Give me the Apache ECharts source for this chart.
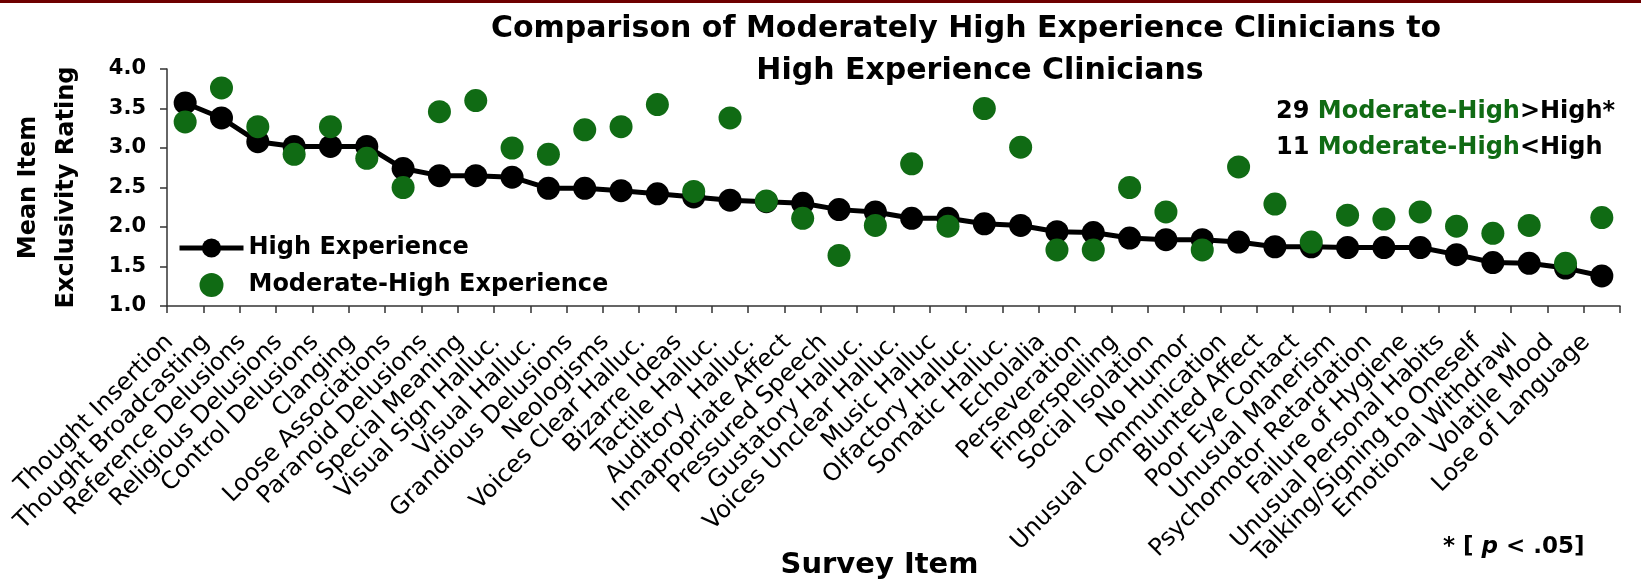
<!DOCTYPE html>
<html><head><meta charset="utf-8">
<script src="https://cdn.jsdelivr.net/npm/echarts@6/dist/echarts.min.js"></script>
<style>html,body{margin:0;padding:0;background:#fff}#c{width:1641px;height:580px}</style>
</head><body><div id="c"></div>
<script>
const categories = ['Thought Insertion','Thought Broadcasting','Reference Delusions','Religious Delusions','Control Delusions','Clanging','Loose Associations','Paranoid Delusions','Special Meaning','Visual Sign Halluc.','Visual Halluc.','Grandious Delusions','Neologisms','Voices Clear Halluc.','Bizarre Ideas','Tactile Halluc.','Auditory  Halluc.','Innapropriate Affect','Pressured Speech','Gustatory Halluc.','Voices Unclear Halluc.','Music Halluc','Olfactory Halluc.','Somatic Halluc.','Echolalia','Perseveration','Fingerspelling','Social Isolation','No Humor','Unusual Communication','Blunted Affect','Poor Eye Contact','Unusual Manerism','Psychomotor Retardation','Failure of Hygiene','Unusual Personal Habits','Talking/Signing to Oneself','Emotional Withdrawl','Volatile Mood','Lose of Language'];
const highExperience = [3.57,3.38,3.08,3.02,3.02,3.02,2.74,2.65,2.65,2.63,2.49,2.49,2.46,2.42,2.38,2.34,2.32,2.30,2.22,2.19,2.11,2.11,2.04,2.02,1.94,1.93,1.86,1.84,1.84,1.81,1.75,1.75,1.74,1.74,1.74,1.65,1.55,1.54,1.48,1.38];
const moderateHighExperience = [3.33,3.76,3.27,2.92,3.27,2.87,2.50,3.46,3.60,3.00,2.92,3.23,3.27,3.55,2.45,3.38,2.33,2.11,1.64,2.02,2.80,2.01,3.50,3.01,1.71,1.71,2.50,2.19,1.71,2.76,2.29,1.81,2.15,2.10,2.19,2.01,1.92,2.02,1.54,2.12];
const seriesNames = ['High Experience','Moderate-High Experience'];
const titleLines = ['Comparison of Moderately High Experience Clinicians to','High Experience Clinicians'];

const FONT = '"DejaVu Sans", Verdana, sans-serif';
const GREEN = '#106b14';
const chart = echarts.init(document.getElementById('c'), null, {renderer:'canvas'});
chart.setOption({
  animation: false,
  backgroundColor: '#fff',
  grid: {left:167, right:21, top:69, bottom:274, containLabel:false, outerBoundsMode:'none'},
  legend: {
    orient:'vertical', left:172, top:231, itemWidth:64, itemHeight:24, itemGap:13,
    data: seriesNames,
    lineStyle:{width:5},
    textStyle: {fontFamily:FONT, fontWeight:'bold', fontSize:24, color:'#000'}
  },
  xAxis: {
    type:'category', data:categories, boundaryGap:true,
    name:'Survey Item', nameLocation:'middle', nameGap:245, nameMoveOverlap:false,
    nameTextStyle:{fontFamily:FONT, fontWeight:'bold', fontSize:29, color:'#000', padding:[0,28,0,0]},
    axisLine:{lineStyle:{color:'#333', width:1.5}},
    axisTick:{show:true, length:7, inside:false, lineStyle:{color:'#333', width:1.5}, alignWithLabel:false},
    axisLabel:{interval:0, rotate:45, margin:17, padding:[0,22,0,0], fontFamily:FONT, fontSize:24, color:'#000'},
    splitLine:{show:false}
  },
  yAxis: {
    type:'value', min:1, max:4, interval:0.5,
    name:'Mean Item\nExclusivity Rating', nameLocation:'middle', nameRotate:90, nameGap:81, nameMoveOverlap:false,
    nameTextStyle:{fontFamily:FONT, fontWeight:'bold', fontSize:24, color:'#000', lineHeight:38},
    axisLine:{show:true, lineStyle:{color:'#333', width:1.5}},
    axisTick:{show:true, length:7, lineStyle:{color:'#333', width:1.5}},
    axisLabel:{margin:21, fontFamily:FONT, fontWeight:'bold', fontSize:21, color:'#000', formatter: v => v.toFixed(1)},
    splitLine:{show:false}
  },
  series: [
    {name:seriesNames[0], type:'line', data:highExperience, symbol:'circle', symbolSize:23,
     itemStyle:{color:'#000'}, lineStyle:{color:'#000', width:5}, z:2},
    {name:seriesNames[1], type:'scatter', data:moderateHighExperience, symbol:'circle', symbolSize:23,
     itemStyle:{color:GREEN, opacity:1}, z:3}
  ],
  graphic: [
    {type:'rect', left:0, top:0, shape:{width:1641, height:3}, style:{fill:'#6e0000'}},
    {type:'text', x:966, y:29, style:{text:titleLines[0], font:'bold 30px '+FONT, fill:'#000', align:'center', verticalAlign:'middle'}},
    {type:'text', x:980, y:71, style:{text:titleLines[1], font:'bold 30px '+FONT, fill:'#000', align:'center', verticalAlign:'middle'}},
    {type:'text', x:1276, y:112, style:{text:'{b|29 }{g|Moderate-High}{b|>High*}', verticalAlign:'middle',
      rich:{b:{fontFamily:FONT, fontWeight:'bold', fontSize:24, fill:'#000'}, g:{fontFamily:FONT, fontWeight:'bold', fontSize:24, fill:GREEN}}}},
    {type:'text', x:1276, y:148, style:{text:'{b|11 }{g|Moderate-High}{b|<High}', verticalAlign:'middle',
      rich:{b:{fontFamily:FONT, fontWeight:'bold', fontSize:24, fill:'#000'}, g:{fontFamily:FONT, fontWeight:'bold', fontSize:24, fill:GREEN}}}},
    {type:'text', x:1443, y:547, style:{text:'{b|* [ }{i|p}{b| < .05]}', verticalAlign:'middle',
      rich:{b:{fontFamily:FONT, fontWeight:'bold', fontSize:23, fill:'#000'}, i:{fontFamily:FONT, fontWeight:'bold', fontStyle:'italic', fontSize:23, fill:'#000'}}}}
  ]
});
</script>
</body></html>
